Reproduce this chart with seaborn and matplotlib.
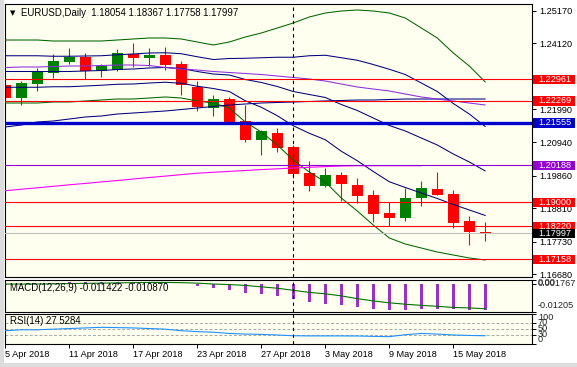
import numpy as np
import matplotlib
matplotlib.use("Agg")
import matplotlib.pyplot as plt
import seaborn as sns
from matplotlib.patches import Rectangle

# EURUSD daily candles, 5 Apr 2018 .. 17 May 2018 (31 bars)
opens = [1.22777, 1.22368, 1.22819, 1.23164, 1.23518, 1.23679, 1.23228, 1.23260, 1.23776, 1.23647,
         1.23743, 1.23453, 1.22713, 1.22046, 1.22326, 1.21618, 1.21015, 1.21231, 1.20780, 1.19943,
         1.19534, 1.19879, 1.19556, 1.19234, 1.18655, 1.18503, 1.19148, 1.19428, 1.19267, 1.18397, 1.18054]
highs = [1.22842, 1.22906, 1.23325, 1.23776, 1.23969, 1.23808, 1.23453, 1.23937, 1.24130, 1.23969,
         1.24001, 1.23550, 1.22906, 1.22455, 1.22391, 1.22133, 1.21338, 1.21402, 1.20845, 1.20329,
         1.20104, 1.19975, 1.19782, 1.19396, 1.19009, 1.19460, 1.19685, 1.19975, 1.19396, 1.18558, 1.18367]
lows = [1.22294, 1.22143, 1.22584, 1.23003, 1.23453, 1.22970, 1.23035, 1.23228, 1.23357, 1.23389,
        1.23260, 1.22465, 1.21949, 1.21788, 1.21563, 1.20951, 1.20532, 1.20629, 1.19782, 1.19373,
        1.19508, 1.19041, 1.18967, 1.18375, 1.18236, 1.18407, 1.18890, 1.19234, 1.18172, 1.17634, 1.17758]
closes = [1.22368, 1.22842, 1.23196, 1.23550, 1.23679, 1.23228, 1.23389, 1.23808, 1.23647, 1.23743,
          1.23421, 1.22787, 1.22078, 1.22326, 1.21595, 1.21015, 1.21305, 1.20758, 1.19920, 1.19534,
          1.19879, 1.19579, 1.19212, 1.18632, 1.18503, 1.19138, 1.19460, 1.19244, 1.18342, 1.18053, 1.17997]

# bollinger bands (green = 2 dev, navy = 1 dev and middle)
bb_up2 = [1.24226, 1.24226, 1.24226, 1.24194, 1.24194, 1.24194, 1.24194, 1.24226, 1.24259, 1.24291,
          1.24291, 1.24259, 1.24162, 1.24065, 1.24162, 1.24323, 1.24452, 1.24613, 1.24774, 1.24967,
          1.25096, 1.25160, 1.25193, 1.25160, 1.25096, 1.24935, 1.24613, 1.24291, 1.23808, 1.23389, 1.22874]
bb_lo2 = [1.22197, 1.22197, 1.22197, 1.22230, 1.22230, 1.22262, 1.22294, 1.22326, 1.22326, 1.22358,
          1.22391, 1.22358, 1.22262, 1.22197, 1.22036, 1.21586, 1.21263, 1.20845, 1.20362, 1.19975,
          1.19653, 1.19138, 1.18719, 1.18268, 1.17850, 1.17656, 1.17527, 1.17399, 1.17302, 1.17206, 1.17141]
bb_mid = [1.23212, 1.23212, 1.23212, 1.23212, 1.23212, 1.23228, 1.23244, 1.23276, 1.23293, 1.23325,
          1.23341, 1.23309, 1.23212, 1.23131, 1.23099, 1.22955, 1.22858, 1.22729, 1.22568, 1.22471,
          1.22375, 1.22149, 1.21956, 1.21714, 1.21473, 1.21296, 1.21070, 1.20845, 1.20555, 1.20298, 1.20008]
bb_up1 = [1.23719, 1.23719, 1.23719, 1.23703, 1.23703, 1.23711, 1.23719, 1.23751, 1.23776, 1.23808,
          1.23816, 1.23784, 1.23687, 1.23598, 1.23630, 1.23639, 1.23655, 1.23671, 1.23671, 1.23719,
          1.23735, 1.23655, 1.23574, 1.23437, 1.23284, 1.23115, 1.22842, 1.22568, 1.22182, 1.21843, 1.21441]
bb_lo1 = [1.22704, 1.22704, 1.22704, 1.22721, 1.22721, 1.22745, 1.22769, 1.22801, 1.22809, 1.22841,
          1.22866, 1.22833, 1.22737, 1.22664, 1.22568, 1.22270, 1.22060, 1.21787, 1.21465, 1.21223,
          1.21014, 1.20644, 1.20338, 1.19991, 1.19662, 1.19476, 1.19299, 1.19122, 1.18929, 1.18752, 1.18575]

# moving averages
ma_navy = [1.21424, 1.21489, 1.21586, 1.21618, 1.21682, 1.21747, 1.21779, 1.21843, 1.21875, 1.21908,
           1.21940, 1.21988, 1.22036, 1.22085, 1.22133, 1.22165, 1.22197, 1.22214, 1.22230, 1.22246,
           1.22262, 1.22278, 1.22294, 1.22294, 1.22310, 1.22326, 1.22326, 1.22326, 1.22326, 1.22326, 1.22326]
ma_purple = [1.23341, 1.23357, 1.23357, 1.23373, 1.23389, 1.23389, 1.23405, 1.23421, 1.23421, 1.23405,
             1.23341, 1.23292, 1.23260, 1.23212, 1.23180, 1.23148, 1.23115, 1.23067, 1.23019, 1.22970,
             1.22906, 1.22809, 1.22713, 1.22648, 1.22584, 1.22487, 1.22391, 1.22326, 1.22262, 1.22197, 1.22133]
ma_magenta = [1.19373, 1.19421, 1.19466, 1.19515, 1.19563, 1.19608, 1.19656, 1.19701, 1.19750, 1.19798,
              1.19843, 1.19891, 1.19937, 1.19966, 1.19995, 1.20024, 1.20053, 1.20078, 1.20104, 1.20127,
              1.20149, 1.20168, 1.20178, 1.20178, 1.20178, 1.20178, 1.20178]

# MACD(12,26,9): main as histogram, signal as line
macd_main = [-0.0004, -0.0002, 0.0000, 0.0003, 0.0005, 0.0005, 0.0005, 0.0007, 0.0007, 0.0008,
             0.0005, -0.0003, -0.0012, -0.0019, -0.0029, -0.0040, -0.0044, -0.0055, -0.0065, -0.0079,
             -0.0086, -0.0093, -0.0101, -0.0111, -0.0115, -0.0115, -0.0111, -0.0108, -0.0111, -0.0115, -0.011422]
macd_signal = [-0.0002, -0.0002, -0.0002, -0.0001, 0.0000, 0.0001, 0.0002, 0.0003, 0.0004, 0.0005,
               0.0005, 0.0004, 0.0002, -0.0002, -0.0004, -0.0008, -0.0014, -0.0020, -0.0029, -0.0038,
               -0.0044, -0.0053, -0.0065, -0.0075, -0.0083, -0.0089, -0.0094, -0.0098, -0.0103, -0.0105, -0.010870]

rsi = [44, 47, 47, 49, 51, 53, 55, 54, 53, 51, 49, 44, 41, 39, 35, 33, 32, 30, 27.5, 27,
       27, 27, 26.7, 25.5, 24.5, 31, 35, 33, 30, 28.5, 27.5284]

date_ticks = [0, 4, 8, 12, 16, 20, 24, 28]
date_labels = ["5 Apr 2018", "11 Apr 2018", "17 Apr 2018", "23 Apr 2018",
               "27 Apr 2018", "3 May 2018", "9 May 2018", "15 May 2018"]
price_ticks = [1.25170, 1.24120, 1.21990, 1.20940, 1.19860, 1.18810, 1.17730, 1.16680]
levels = [1.22961, 1.22269, 1.21555, 1.20188, 1.19000, 1.18220, 1.17158]
level_colors = ["#FF0000", "#FF0000", "#0000CD", "#9400D3", "#FF0000", "#FF0000", "#FF0000"]
bid = 1.17997
sep_bar = 18  # 1 May 2018

###########
sns.set_theme(style="white")
plt.rcParams["font.family"] = ["Liberation Sans", "DejaVu Sans"]
FS = 6.6
BG = "#FFFFF0"
GREEN = "#008000"
RED = "#FF0000"

W, H = 577, 367
def box(x0, y0, x1, y1):
    return [x0 / W, 1 - y1 / H, (x1 - x0) / W, (y1 - y0) / H]

fig = plt.figure(figsize=(W / 100, H / 100), dpi=100, facecolor="white")
ax = fig.add_axes(box(5, 3.5, 532, 277))
axm = fig.add_axes(box(5, 279.5, 532, 311.5), sharex=ax)
axr = fig.add_axes(box(5, 313.5, 532, 344.2), sharex=ax)
AXW = 527.0

x = np.arange(len(opens))
o, h, l, c = map(np.array, (opens, highs, lows, closes))
cols = np.where(c >= o, GREEN, RED)

# candles
ax.vlines(x, l, h, colors=cols, lw=0.8, zorder=2)
ax.bar(x, np.maximum(np.abs(c - o), 0.0003), bottom=np.minimum(o, c), width=0.68,
       color=cols, linewidth=0, zorder=2)

# indicators
for vals, col in [(bb_up2, "#006400"), (bb_lo2, "#006400"), (bb_up1, "#000080"),
                  (bb_lo1, "#000080"), (bb_mid, "#000080"), (ma_navy, "#000080"),
                  (ma_purple, "#8A2BE2")]:
    sns.lineplot(x=x, y=vals, ax=ax, color=col, linewidth=0.75, legend=False, zorder=3)
sns.lineplot(x=x[:len(ma_magenta)], y=ma_magenta, ax=ax, color="#FF00FF", linewidth=0.8,
             legend=False, zorder=3)

# horizontal levels
for lv, col in zip(levels, level_colors):
    ax.axhline(lv, color=col, lw=2.4 if col == "#0000CD" else 0.8, zorder=4)
ax.axhline(bid, color="#C0C0C0", lw=0.8, zorder=4)

ylo, yhi = 1.255146 - 0.00032206 * 277, 1.255146 - 0.00032206 * 3.5
ax.set_ylim(ylo, yhi)
ax.set_xlim(-0.3 / 16, 32.92)
px = (yhi - ylo) / 273.5

def tag(a, y, text, fc, hh):
    tr = a.get_yaxis_transform()
    a.add_patch(Rectangle((1 + 1 / AXW, y - hh / 2), 42 / AXW, hh, transform=tr,
                          facecolor=fc, edgecolor="none", clip_on=False, zorder=10))
    a.text(1 + 6 / AXW, y, text, transform=tr, color="white", fontsize=FS,
           va="center", ha="left", zorder=11, clip_on=False)

for lv, col in zip(levels, level_colors):
    tag(ax, lv, f"{lv:.5f}", col, 9.5 * px)
tag(ax, bid, f"{bid:.5f}", "black", 9.5 * px)

ax.set_yticks(price_ticks)
ax.set_yticklabels([f"{t:.5f}" for t in price_ticks])

# header
ax.text(7.5 / AXW, 0.966, "\u25bc", transform=ax.transAxes, fontsize=5,
        family="DejaVu Sans", ha="center", va="center", color="black")
ax.text(16 / AXW, 0.966, "EURUSD,Daily  1.18054 1.18367 1.17758 1.17997", transform=ax.transAxes,
        fontsize=6.9, ha="left", va="center", color="black")

# MACD panel
axm.bar(x, macd_main, width=0.2, color="#9932CC", linewidth=0, zorder=2)
sns.lineplot(x=x, y=macd_signal, ax=axm, color="#007000", linewidth=0.8, legend=False, zorder=3)
axm.set_ylim(-0.01205, 0.001767)
axm.set_yticks([0.001767, 0.0, -0.01205])
axm.set_yticklabels([])
trm = axm.get_yaxis_transform()
axm.text(1 + 6 / AXW, 0.001767, "0.001767", transform=trm, fontsize=FS, va="top", ha="left", clip_on=False)
axm.text(1 + 6 / AXW, 0.0006, "0.00", transform=trm, fontsize=FS, va="center", ha="left", clip_on=False)
axm.text(1 + 6 / AXW, -0.0096, "-0.01205", transform=trm, fontsize=FS, va="center", ha="left", clip_on=False)
axm.text(5 / AXW, 0.72, "MACD(12,26,9) -0.011422 -0.010870", transform=axm.transAxes,
         fontsize=6.9, ha="left", va="center", color="black", zorder=5)

# RSI panel
for lv in (70, 50, 30):
    axr.axhline(lv, color="#A8A8A8", lw=0.7, ls=(0, (3, 2)), zorder=1)
sns.lineplot(x=x, y=rsi, ax=axr, color="#1E90FF", linewidth=0.8, legend=False, zorder=3)
axr.set_ylim(0, 100)
axr.set_yticks([100, 70, 50, 30, 0])
axr.set_yticklabels([])
trr = axr.get_yaxis_transform()
for lv, va in [(100, "top"), (70, "center"), (50, "center"), (30, "center"), (0, "bottom")]:
    axr.text(1 + 6 / AXW, lv, str(lv), transform=trr, fontsize=FS, va=va, ha="left", clip_on=False)
axr.text(5 / AXW, 0.74, "RSI(14) 27.5284", transform=axr.transAxes,
         fontsize=6.9, ha="left", va="center", color="black", zorder=5)

# period separator
for a in (ax, axm, axr):
    a.axvline(sep_bar, color="black", lw=0.8, ls=(0, (3, 3)), zorder=5)
    a.set_facecolor(BG)
    a.set_xlabel("")
    a.set_ylabel("")
    for s in a.spines.values():
        s.set_color("black")
        s.set_linewidth(0.8)
    a.yaxis.tick_right()
    a.tick_params(axis="y", which="both", direction="out", length=3, width=0.7,
                  pad=2.5, labelsize=FS, colors="black", right=True, left=False)

axr.set_xticks(date_ticks)
axr.set_xticklabels(date_labels)
for lab in axr.get_xticklabels():
    lab.set_ha("left")
axr.tick_params(axis="x", direction="out", length=3, width=0.7, pad=1.5, labelsize=FS,
                colors="black", bottom=True)
for a in (ax, axm):
    a.tick_params(axis="x", bottom=False, labelbottom=False)

# window frame strips
fig.patches.append(Rectangle((0, 0), 1, 4 / H, transform=fig.transFigure, facecolor="#DCDCDC",
                             edgecolor="none", zorder=0))
fig.patches.append(Rectangle((0, 0), 3.5 / W, 1, transform=fig.transFigure, facecolor="#DCDCDC",
                             edgecolor="none", zorder=0))

fig.savefig("out.png", dpi=100, facecolor="white")
